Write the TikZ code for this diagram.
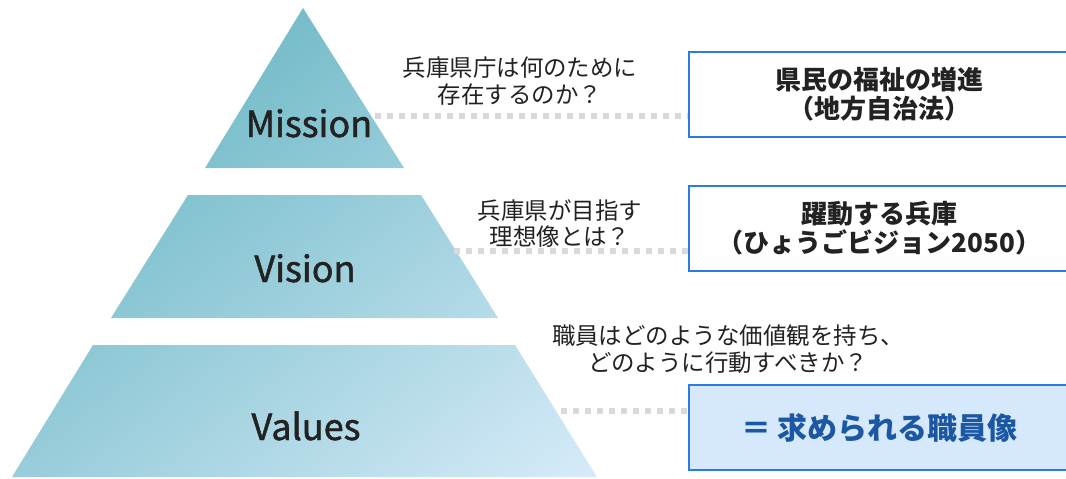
\documentclass[tikz,border=0pt]{standalone}
\usepackage{fontspec}
\setmainfont{Noto Sans CJK JP}
\newfontfamily\levelfont[FakeBold=1.3]{Noto Sans CJK JP}
\usetikzlibrary{positioning}

\begin{document}
\begin{tikzpicture}
		[x=0.75pt,y=-0.75pt,line cap=butt,
		%Styles
		level text/.style={font=\levelfont\fontsize{27}{30}\selectfont,text=textgray,anchor=base},
		question text/.style={font=\fontsize{17.6}{20}\selectfont,align=center,text=textgray},
		answer box/.style={draw=boxline,line width=1.5pt,fill=white,minimum width=285.75pt,minimum height=63.75pt,align=center,text=textgray,font=\bfseries\fontsize{19.5}{21.75}\selectfont},
		guide line/.style={draw=guidegray,line width=4.5pt,dash pattern=on 4.5pt off 4.5pt}
		]
		
		%Colors
		\definecolor{pyrdark}{HTML}{50AAB6}
		\definecolor{pyrlight}{HTML}{DDEEFC}
		\definecolor{boxline}{HTML}{2B7BE4}
		\definecolor{boxfill}{HTML}{D6E9FC}
		\definecolor{answerblue}{HTML}{1B57A3}
		\definecolor{guidegray}{HTML}{D9D9D9}
		\definecolor{textgray}{HTML}{222222}
		
		\useasboundingbox (0,0) rectangle (1066,478);
		
		%The pyramid
		\begin{scope}
			\clip (303,8) -- (404,168) -- (205,168) -- cycle
				(188,195) -- (421,195) -- (498,318) -- (111,318) -- cycle
				(93,345) -- (515,345) -- (597,477) -- (12,477) -- cycle;
			\shade[top color=pyrdark,bottom color=pyrlight,shading angle=38] (-95.5,-157.5) rectangle (704.5,642.5);
		\end{scope}
		\node[level text] (mission) at (309,137) {Mission};
		\node[level text] (vision) at (305,282) {Vision};
		\node[level text] (values) at (306,440) {Values};
		
		%Questions
		\node[question text] (missionq) at (520,81) {兵庫県庁は何のために\\存在するのか？};
		\node[question text] (visionq) at (560,223.5) {兵庫県が目指す\\理想像とは？};
		\node[question text] (valuesq) at (728,349) {職員はどのような価値観を持ち、\\どのように行動すべきか？};
		
		%Guide lines
		\coordinate (missiongap) at (375,116);
		\coordinate (visiongap) at (454,251);
		\coordinate (valuesgap) at (561,411);
		\node[answer box] (missionbox) at (879.5,94.5) {};
		\node[answer box] (visionbox) at (879.5,228) {};
		\node[answer box] (valuesbox) at (879.5,427.5) {};
		\draw[guide line] (missiongap) -- (missiongap -| missionbox.west);
		\draw[guide line] (visiongap) -- (visiongap -| visionbox.west);
		\draw[guide line] (valuesgap) -- (valuesgap -| valuesbox.west);
		
		%Answers
		\node[answer box] at (missionbox) {県民の福祉の増進\\（地方自治法）};
		\node[answer box] at (visionbox) {躍動する兵庫\\（ひょうごビジョン2050）};
		\node[answer box,fill=boxfill,text=answerblue,font=\bfseries\fontsize{22.5}{25}\selectfont] at (valuesbox) {＝ 求められる職員像};
	\end{tikzpicture}
\end{document}
